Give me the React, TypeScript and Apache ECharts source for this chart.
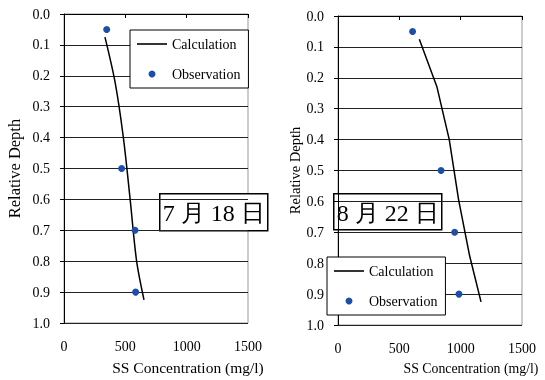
import React, { useEffect, useRef } from "react";
import * as echarts from "echarts";

const depthTicks = [0, 0.1, 0.2, 0.3, 0.4, 0.5, 0.6, 0.7, 0.8, 0.9, 1.0];
const ssTicks = [0, 500, 1000, 1500];

// 7月18日
const calcDepthL = [0.075, 0.22, 0.4, 0.595, 0.8, 0.925];
const calcSSL = [334, 416, 484, 538, 592, 652];
const obsDepthL = [0.05, 0.5, 0.7, 0.9];
const obsSSL = [348, 470, 579, 584];

// 8月22日
const calcDepthR = [0.075, 0.23, 0.4, 0.594, 0.776, 0.925];
const calcSSR = [663, 807, 907, 983, 1073, 1166];
const obsDepthR = [0.05, 0.5, 0.7, 0.9];
const obsSSR = [608, 840, 951, 986];

const dateL = "7 月 18 日";
const dateR = "8 月 22 日";
const seriesNames = ["Calculation", "Observation"];

const FONT = "Liberation Serif";
const BLUE = "#1d4fa8";

function pairs(xs: number[], ys: number[]) {
  return xs.map((x, i) => [x, ys[i]]);
}

export default function App() {
  const ref = useRef<HTMLDivElement>(null);
  useEffect(() => {
    if (!ref.current) return;
    const chart = echarts.init(ref.current, null, { renderer: "svg" });

    const grids = [
      { left: 64, top: 14, width: 184, height: 312 },
      { left: 338, top: 16, width: 184, height: 310 },
    ];

    const mkBottomX = (gi: number, nameSize: number, padLeft: number) => ({
      type: "value",
      gridIndex: gi,
      min: ssTicks[0],
      max: ssTicks[ssTicks.length - 1],
      interval: 500,
      position: "bottom",
      axisLine: { show: true, lineStyle: { color: "#000", width: 1 } },
      axisTick: { show: false },
      splitLine: { show: false },
      axisLabel: {
        fontFamily: FONT,
        fontSize: 14,
        color: "#000",
        margin: 16,
        formatter: (v: number) => String(v),
      },
      name: "SS Concentration (mg/l)",
      nameLocation: "middle",
      nameGap: 36,
      nameTextStyle: { fontFamily: FONT, fontSize: nameSize, color: "#000", padding: [0, 0, 0, padLeft] },
    });
    const mkTopX = (gi: number) => ({
      type: "value",
      gridIndex: gi,
      min: ssTicks[0],
      max: ssTicks[ssTicks.length - 1],
      interval: 500,
      position: "top",
      axisLine: { show: true, lineStyle: { color: "#000", width: 1 } },
      axisTick: { show: true, inside: true, length: 4, lineStyle: { color: "#000" } },
      axisLabel: { show: false },
      splitLine: { show: false },
    });
    const mkY = (gi: number, nameSize: number, gap: number) => ({
      type: "value",
      gridIndex: gi,
      min: depthTicks[0],
      max: depthTicks[depthTicks.length - 1],
      interval: 0.1,
      inverse: true,
      axisLine: { show: true, lineStyle: { color: "#000", width: 1 } },
      axisTick: { show: true, inside: false, length: 4, lineStyle: { color: "#000" } },
      axisLabel: {
        fontFamily: FONT,
        fontSize: 14,
        color: "#000",
        margin: 14,
        formatter: (v: number) => v.toFixed(1),
      },
      splitLine: { show: true, lineStyle: { color: "#222", width: 1 } },
      name: "Relative Depth",
      nameLocation: "middle",
      nameGap: gap,
      nameTextStyle: { fontFamily: FONT, fontSize: nameSize, color: "#000" },
    });

    const mkLegend = (left: number, top: number) => ({
      left,
      top,
      orient: "vertical",
      data: [
        { name: seriesNames[0], icon: "path://M0,0L30,0L30,1.6L0,1.6Z", itemStyle: { color: "#000" } },
        { name: seriesNames[1], icon: "circle", itemStyle: { color: BLUE } },
      ],
      itemWidth: 30,
      itemHeight: 7,
      itemGap: 16,
      padding: [7, 8, 7, 7],
      borderColor: "#000",
      borderWidth: 1,
      backgroundColor: "#fff",
      textStyle: { fontFamily: FONT, fontSize: 14, color: "#000" },
      z: 10,
    });

    const mkDateBox = (x: number, y: number, w: number, h: number, txt: string) => ({
      type: "group",
      left: x,
      top: y,
      z: 20,
      children: [
        {
          type: "rect",
          shape: { x: 0, y: 0, width: w, height: h },
          style: { fill: "#fff", stroke: "#000", lineWidth: 1.5 },
        },
        {
          type: "text",
          x: w / 2,
          y: h / 2 + 1,
          style: {
            text: txt,
            fontFamily: FONT,
            fontSize: 24,
            fill: "#000",
            align: "center",
            verticalAlign: "middle",
          },
        },
      ],
    });

    const seriesFor = (
      gi: number,
      cx: number[],
      cy: number[],
      ox: number[],
      oy: number[],
      smooth: boolean
    ) => [
      {
        name: seriesNames[0],
        type: "line",
        xAxisIndex: gi * 2,
        yAxisIndex: gi,
        data: pairs(cx, cy),
        showSymbol: false,
        symbol: "none",
        smooth: smooth ? 0.3 : false,
        lineStyle: { color: "#000", width: 1.5 },
        itemStyle: { color: "#000" },
        z: 3,
      },
      {
        name: seriesNames[1],
        type: "scatter",
        xAxisIndex: gi * 2,
        yAxisIndex: gi,
        data: pairs(ox, oy),
        symbol: "circle",
        symbolSize: 7,
        itemStyle: { color: BLUE, opacity: 1 },
        z: 4,
      },
    ];

    chart.setOption({
      animation: false,
      textStyle: { fontFamily: FONT },
      grid: grids.map((g) => ({ ...g, show: true, borderColor: "#999", borderWidth: 1, backgroundColor: "transparent" })),
      xAxis: [mkBottomX(0, 15.5, 64), mkTopX(0), mkBottomX(1, 13.8, 82), mkTopX(1)],
      yAxis: [mkY(0, 16.5, 41), mkY(1, 14.5, 36)],
      legend: [mkLegend(130, 30), mkLegend(327, 257)],
      series: [
        ...seriesFor(0, calcSSL, calcDepthL, obsSSL, obsDepthL, true),
        ...seriesFor(1, calcSSR, calcDepthR, obsSSR, obsDepthR, false),
      ],
      graphic: [mkDateBox(159, 193, 108, 37, dateL), mkDateBox(333, 193, 108, 36, dateR)],
    });
    return () => chart.dispose();
  }, []);

  return (
    <div
      ref={ref}
      style={{ position: "fixed", left: 0, top: 0, width: 545, height: 380 }}
    />
  );
}
